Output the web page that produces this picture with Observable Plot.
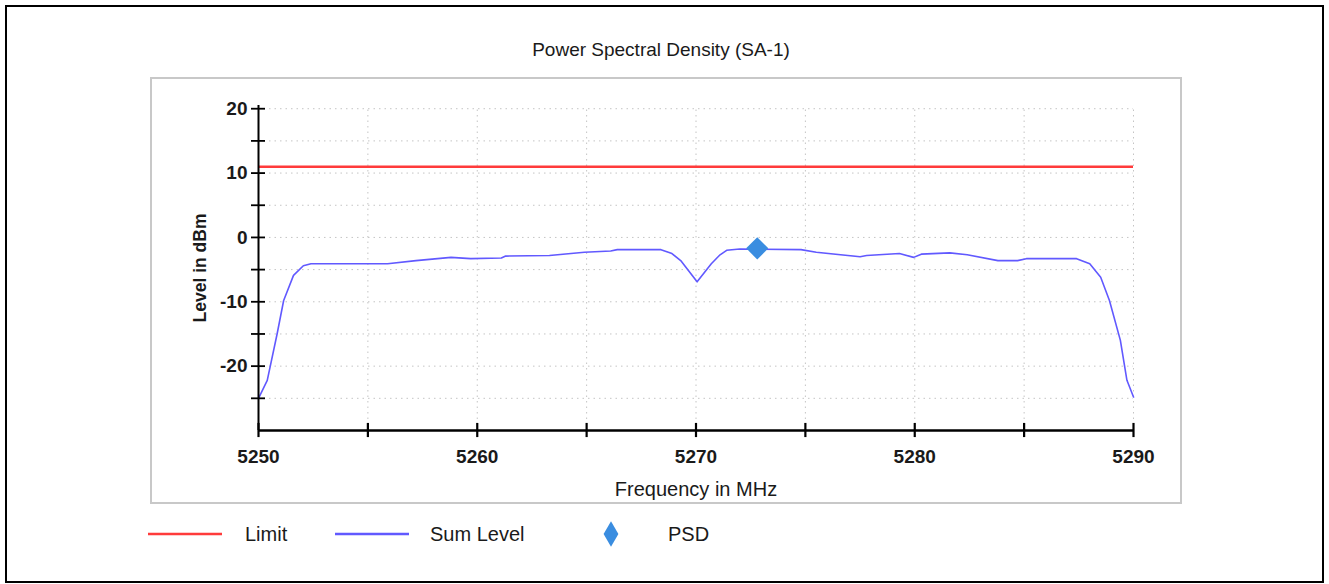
<!DOCTYPE html>
<html>
<head>
<meta charset="utf-8">
<script src="https://cdn.jsdelivr.net/npm/d3@7"></script>
<script src="https://cdn.jsdelivr.net/npm/@observablehq/plot@0.6"></script>
<style>
  html, body { margin: 0; padding: 0; background: #fff; }
  body { width: 1329px; height: 584px; position: relative; overflow: hidden; font-family: "Liberation Sans", Arial, sans-serif; color: #1a1a1a; }
  #border { position: absolute; left: 5px; top: 5px; width: 1315px; height: 574px; border: 2px solid #000; }
  #frame { position: absolute; left: 150px; top: 77px; width: 1028px; height: 423px; border: 2px solid #c8c8c8; }
  #chart { position: absolute; left: 150px; top: 77px; }
  .txt { position: absolute; white-space: nowrap; }
  #title { left: 661px; top: 50px; transform: translate(-50%, -50%); font-size: 19px; }
  #xlabel { left: 696px; top: 489px; transform: translate(-50%, -50%); font-size: 20px; }
  #ylabel { left: 200px; top: 268px; transform: translate(-50%, -50%) rotate(-90deg); font-size: 17.5px; font-weight: bold; }
  #legend { position: absolute; left: 0; top: 0; }
</style>
</head>
<body>
<div id="border"></div>
<div id="frame"></div>
<div id="title" class="txt"></div>
<div id="chart"></div>
<div id="xlabel" class="txt"></div>
<div id="ylabel" class="txt"></div>
<div id="legend"></div>
<script>
// ---- data ----
const titleText = "Power Spectral Density (SA-1)";
const xLabel = "Frequency in MHz";
const yLabel = "Level in dBm";

const freqMHz = [5250, 5250.4, 5250.85, 5251.15, 5251.6, 5252.05, 5252.4, 5254, 5255.9, 5257.2, 5258.8, 5259.7,
  5261.1, 5261.3, 5263.3, 5264.9, 5266.1, 5266.4, 5268.4, 5268.9, 5269.3, 5270.05, 5270.7, 5271.1, 5271.4, 5272,
  5274.8, 5275.5, 5277.5, 5277.8, 5279.3, 5279.95, 5280.3, 5281.6, 5282.4, 5283.8, 5284.7, 5285.1,
  5287.4, 5288.0, 5288.5, 5288.9, 5289.4, 5289.7, 5290];
const sumLevel = [-25, -22.2, -15, -9.8, -5.9, -4.4, -4.1, -4.1, -4.1, -3.6, -3.1, -3.3,
  -3.2, -2.9, -2.8, -2.3, -2.1, -1.9, -1.9, -2.5, -3.6, -6.9, -4.1, -2.7, -2.0, -1.8,
  -1.9, -2.3, -3.0, -2.8, -2.5, -3.1, -2.6, -2.4, -2.7, -3.6, -3.6, -3.3,
  -3.3, -4.1, -6.2, -9.8, -16, -22.2, -24.8];
const limitLevel = [11];
const psdFreq = [5272.8];
const psdLevel = [-1.7];

const xTickLabels = [5250, 5260, 5270, 5280, 5290];
const xMinorTicks = [5250, 5255, 5260, 5265, 5270, 5275, 5280, 5285, 5290];
const yTickLabels = [-20, -10, 0, 10, 20];
const yMinorTicks = [-25, -20, -15, -10, -5, 0, 5, 10, 15, 20];
const xGrid = [5255, 5260, 5265, 5270, 5275, 5280, 5285, 5290];
const yGrid = [-25, -20, -15, -10, -5, 0, 5, 10, 15, 20];

const seriesNames = ["Limit", "Sum Level", "PSD"];
const seriesColors = ["#ff3b3b", "#6159ff", "#3a8de0"];

const xDomain = [5250, 5290];
const yDomain = [-30, 20.5];

// ---- build ----
const sumData = freqMHz.map((f, i) => ({f, v: sumLevel[i]}));
const psdData = psdFreq.map((f, i) => ({f, v: psdLevel[i]}));

const x0 = xDomain[0], x1 = xDomain[1], yb = yDomain[0], yt = yDomain[1];

const chart = Plot.plot({
  width: 1030,
  height: 425,
  marginLeft: 108,
  marginRight: 47,
  marginTop: 28,
  marginBottom: 72,
  style: {fontFamily: "Liberation Sans, Arial, sans-serif", color: "#1a1a1a", background: "transparent", overflow: "visible"},
  x: {domain: xDomain},
  y: {domain: yDomain},
  marks: [
    Plot.ruleX(xGrid, {x: d => d, y1: () => yb, y2: () => 20, stroke: "#c4c4c4", strokeWidth: 1, strokeDasharray: "1.5,4"}),
    Plot.ruleY(yGrid, {y: d => d, x1: () => x0, x2: () => x1, stroke: "#c4c4c4", strokeWidth: 1, strokeDasharray: "1.5,4"}),
    Plot.ruleY(limitLevel, {y: d => d, x1: () => x0, x2: () => x1, stroke: seriesColors[0], strokeWidth: 2.5}),
    Plot.line(sumData, {x: "f", y: "v", stroke: seriesColors[1], strokeWidth: 1.6}),
    Plot.dot(psdData, {x: "f", y: "v", symbol: "diamond2", r: 10, fill: seriesColors[2], stroke: "none"}),
    Plot.ruleX([x0], {x: d => d, y1: () => yb, y2: () => yt, stroke: "#000", strokeWidth: 2}),
    Plot.ruleY([yb], {y: d => d, x1: () => x0, x2: () => x1, stroke: "#000", strokeWidth: 2.5}),
    Plot.ruleY(yMinorTicks, {y: d => d, x1: () => x0 - 0.32, x2: () => x0 + 0.32, stroke: "#000", strokeWidth: 1.8}),
    Plot.ruleX(xMinorTicks, {x: d => d, y1: () => yb - 1.1, y2: () => yb + 1.1, stroke: "#000", strokeWidth: 2.2}),
    Plot.axisX({ticks: xTickLabels, tickSize: 0, tickPadding: 19, fontSize: 19, label: null, tickFormat: d => String(d)}),
    Plot.axisY({ticks: yTickLabels, tickSize: 0, tickPadding: 11, fontSize: 19, label: null, tickFormat: d => String(d)})
  ]
});
chart.querySelectorAll("text").forEach(t => t.style.fontWeight = "bold");
document.getElementById("chart").appendChild(chart);

document.getElementById("title").textContent = titleText;
document.getElementById("xlabel").textContent = xLabel;
document.getElementById("ylabel").textContent = yLabel;

// ---- legend ----
const legendItems = [
  {name: seriesNames[0], color: seriesColors[0], kind: "line", sx: 148, tx: 245},
  {name: seriesNames[1], color: seriesColors[1], kind: "line", sx: 335, tx: 430},
  {name: seriesNames[2], color: seriesColors[2], kind: "diamond", sx: 611, tx: 668}
];
const leg = d3.select("#legend").append("svg").attr("width", 1329).attr("height", 584)
  .style("position", "absolute").style("left", 0).style("top", 0);
legendItems.forEach(it => {
  if (it.kind === "line") {
    leg.append("line").attr("x1", it.sx).attr("x2", it.sx + 74).attr("y1", 534).attr("y2", 534)
      .attr("stroke", it.color).attr("stroke-width", 2.5);
  } else {
    leg.append("path").attr("d", d3.symbol(d3.symbolDiamond, 190)())
      .attr("transform", `translate(${it.sx},534)`).attr("fill", it.color);
  }
  leg.append("text").attr("x", it.tx).attr("y", 541).text(it.name)
    .attr("font-size", 20).attr("fill", "#1a1a1a")
    .attr("font-family", "Liberation Sans, Arial, sans-serif");
});
</script>
</body>
</html>
